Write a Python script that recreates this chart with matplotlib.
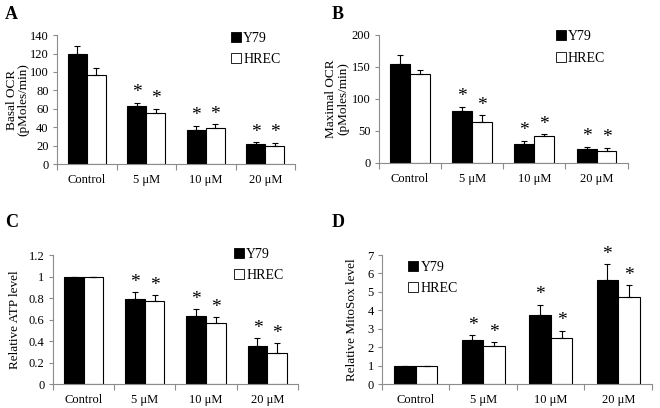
import numpy as np
import matplotlib
matplotlib.use('agg')
import matplotlib.pyplot as plt
from matplotlib.lines import Line2D

plt.rcParams['font.family'] = ['Liberation Serif', 'DejaVu Serif']

# data
categories = ['Control', '5 \u03bcM', '10 \u03bcM', '20 \u03bcM']
series = ['Y79', 'HREC']

basal_y79 = [120, 62.5, 37, 21.3]
basal_y79_err = [8.5, 4.2, 4.6, 2.2]
basal_hrec = [97, 55.7, 39, 19.5]
basal_hrec_err = [7.5, 4.5, 4.4, 3.5]

max_y79 = [154, 80.5, 30, 22]
max_y79_err = [14, 7.5, 5, 3.5]
max_hrec = [139, 64, 41.5, 18.5]
max_hrec_err = [6, 11, 3.5, 5.5]

atp_y79 = [1.0, 0.788, 0.63, 0.357]
atp_y79_err = [0, 0.065, 0.065, 0.068]
atp_hrec = [1.0, 0.775, 0.564, 0.288]
atp_hrec_err = [0, 0.052, 0.06, 0.09]

mito_y79 = [1.0, 2.39, 3.74, 5.66]
mito_y79_err = [0, 0.25, 0.56, 0.83]
mito_hrec = [1.0, 2.04, 2.48, 4.7]
mito_hrec_err = [0, 0.24, 0.41, 0.65]

# control is the reference group, no star there
star = [False, True, True, True]

fig = plt.figure(figsize=[6.6, 4.08], dpi=100)
axA = fig.add_axes([0.0864, 0.598, 0.3606, 0.316])
axB = fig.add_axes([0.574, 0.6005, 0.377, 0.314])
axC = fig.add_axes([0.0803, 0.0588, 0.371, 0.316])
axD = fig.add_axes([0.5788, 0.0588, 0.409, 0.316])

grey = '#8c8c8c'
w = 0.32


def draw_panel(ax, y79, y79e, hrec, hrece, ylim, yticks, fmt, ylabel, leg_anchor, star_off):
    x = np.arange(len(categories))
    for xs, vals, errs, fc in [(x - w / 2, y79, y79e, 'black'), (x + w / 2, hrec, hrece, 'white')]:
        ax.bar(xs, vals, w, color=fc, edgecolor='black', linewidth=0.8, zorder=2)
        ax.errorbar(xs, vals, yerr=[np.zeros(len(errs)), errs], fmt='none',
                    ecolor='black', elinewidth=0.8, capsize=2.5, capthick=0.8, zorder=3)
        for xi, v, e, s in zip(xs, vals, errs, star):
            if s:
                ax.annotate('*', (xi, v + e), xytext=(0, star_off), textcoords='offset points',
                            ha='center', va='bottom', fontsize=14)
    ax.set_xlim(-0.5, len(categories) - 0.5)
    ax.set_ylim(*ylim)
    ax.set_yticks(yticks)
    ax.set_yticklabels([fmt(t) for t in yticks], fontsize=9)
    ax.set_xticks(np.arange(-0.5, len(categories), 1.0))
    ax.set_xticklabels([])
    ax.set_xticks(x, minor=True)
    ax.set_xticklabels(categories, minor=True, fontsize=9)
    ax.tick_params(axis='x', which='minor', length=0, pad=7)
    ax.tick_params(axis='x', which='major', length=4, color=grey)
    ax.tick_params(axis='y', length=3, color=grey, pad=3)
    for sp in ['top', 'right']:
        ax.spines[sp].set_visible(False)
    for sp in ['left', 'bottom']:
        ax.spines[sp].set_color(grey)
        ax.spines[sp].set_linewidth(0.8)
    ax.set_ylabel(ylabel, fontsize=9.5, linespacing=1.0)
    handles = [Line2D([], [], marker='s', linestyle='none', markersize=7,
                      markerfacecolor=c, markeredgecolor='black', markeredgewidth=0.6)
               for c in ['black', 'white']]
    ax.legend(handles, series, loc='upper left', bbox_to_anchor=leg_anchor, frameon=False,
              fontsize=10, handletextpad=0.0, handlelength=1.0, labelspacing=0.6,
              borderaxespad=0)


draw_panel(axA, basal_y79, basal_y79_err, basal_hrec, basal_hrec_err, (0, 140),
           np.arange(0, 141, 20), lambda t: '%d' % t, 'Basal OCR\n(pMoles/min)', (0.70, 1.07), 1)
draw_panel(axB, max_y79, max_y79_err, max_hrec, max_hrec_err, (0, 200),
           np.arange(0, 201, 50), lambda t: '%d' % t, 'Maximal OCR\n(pMoles/min)', (0.68, 1.08), 1)
draw_panel(axC, atp_y79, atp_y79_err, atp_hrec, atp_hrec_err, (0, 1.2),
           np.round(np.arange(0, 1.21, 0.2), 1), lambda t: '%g' % t, 'Relative ATP level', (0.71, 1.10), 1)
draw_panel(axD, mito_y79, mito_y79_err, mito_hrec, mito_hrec_err, (0, 7),
           np.arange(0, 8, 1), lambda t: '%d' % t, 'Relative MitoSox level', (0.07, 1.0), 1)

axA.yaxis.set_label_coords(-0.115, 0.5)
axB.yaxis.set_label_coords(-0.12, 0.5)
axC.yaxis.set_label_coords(-0.13, 0.5)
axD.yaxis.set_label_coords(-0.09, 0.5)

for lbl, (fx, fy) in zip('ABCD', [(0.008, 0.965), (0.503, 0.965), (0.008, 0.455), (0.503, 0.455)]):
    fig.text(fx, fy, lbl, fontsize=13, fontweight='bold', ha='left', va='center')

plt.savefig('out.png', dpi=100)
